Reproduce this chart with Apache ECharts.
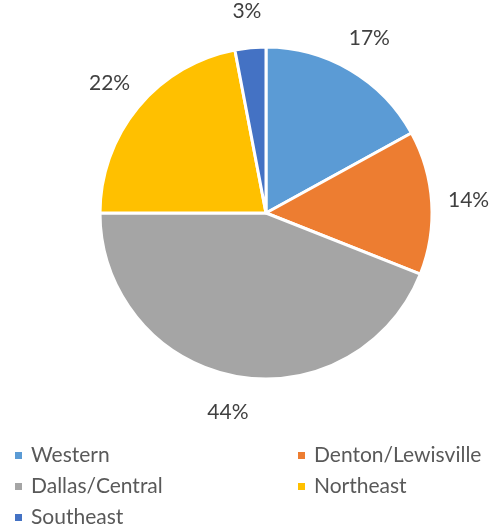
<!DOCTYPE html>
<html>
<head>
<meta charset="utf-8">
<script src="https://cdn.jsdelivr.net/npm/echarts@6/dist/echarts.min.js"></script>
<style>
html,body{margin:0;padding:0;background:#fff;}
#main{width:492px;height:529px;}
</style>
</head>
<body>
<div id="main"></div>
<script>
let regions = ['Western', 'Denton/Lewisville', 'Dallas/Central', 'Northeast', 'Southeast'];
let shares = [17, 14, 44, 22, 3];
let colors = ['#5B9BD5', '#ED7D31', '#A5A5A5', '#FFC000', '#4472C4'];

let chart = echarts.init(document.getElementById('main'));

let pieData = regions.map(function (name, i) {
	return { name: name, value: shares[i], itemStyle: { color: colors[i] } };
});
// 透明外环只用来放百分比标签
let labelData = regions.map(function (name, i) {
	return { name: name, value: shares[i] };
});

function legendItems(idx) {
	return idx.map(function (i) {
		return { name: regions[i], itemStyle: { color: colors[i] } };
	});
}

let legendText = { fontFamily: 'Lato', fontSize: 21, color: '#595959', padding: [0, 0, 0, 3] };

let option = {
	animation: false,
	legend: [{
		data: legendItems([0, 2, 4]),
		orient: 'vertical',
		left: 13,
		top: 445,
		padding: 0,
		itemWidth: 9,
		itemHeight: 9,
		itemGap: 10,
		icon: 'rect',
		textStyle: legendText
	}, {
		data: legendItems([1, 3]),
		orient: 'vertical',
		left: 296,
		top: 445,
		padding: 0,
		itemWidth: 9,
		itemHeight: 9,
		itemGap: 10,
		icon: 'rect',
		textStyle: legendText
	}],
	series: [{
		type: 'pie',
		center: [266, 213],
		radius: [0, 166],
		startAngle: 90,
		clockwise: true,
		data: pieData,
		itemStyle: { borderColor: '#fff', borderWidth: 3 },
		label: { show: false },
		labelLine: { show: false }
	}, {
		type: 'pie',
		silent: true,
		center: [266, 213],
		radius: [186, 214],
		startAngle: 90,
		clockwise: true,
		data: labelData,
		itemStyle: { color: 'rgba(0,0,0,0)' },
		label: {
			show: true,
			position: 'inside',
			formatter: '{c}%',
			fontFamily: 'Lato',
			fontSize: 21,
			color: '#404040'
		},
		labelLine: { show: false }
	}]
};
chart.setOption(option);
</script>
</body>
</html>
